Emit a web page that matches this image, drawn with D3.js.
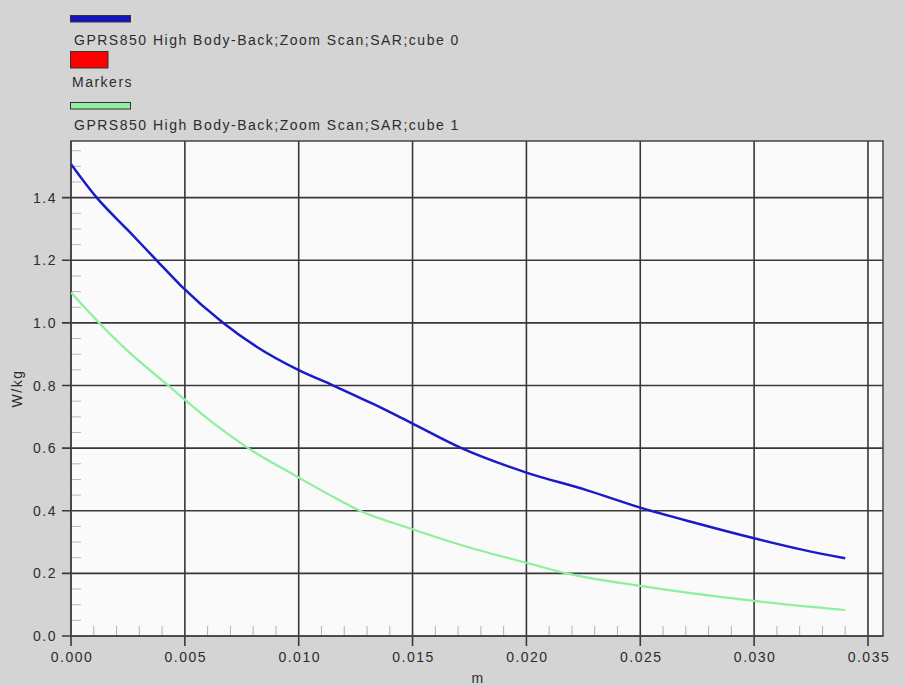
<!DOCTYPE html>
<html>
<head>
<meta charset="UTF-8">
<title>GPRS850 zoom scan</title>
<style>
  body{ margin:0; background:#d4d4d4; overflow:hidden; }
  text{ font-family:"Liberation Sans", Arial, sans-serif; font-size:14px; fill:#2c2c2c; letter-spacing:1.5px; }
</style>
</head>
<body>
<script src="https://cdn.jsdelivr.net/npm/d3@7"></script>
<script>

// tick values
var xTicks = [0, 0.005, 0.010, 0.015, 0.020, 0.025, 0.030, 0.035];
var yTicks = [0.0, 0.2, 0.4, 0.6, 0.8, 1.0, 1.2, 1.4];

// distance (m) and SAR (W/kg)
var cube0X = [0, 0.00113, 0.0025, 0.00376, 0.0048, 0.00669, 0.00815, 0.00998, 0.01152, 0.01327, 0.01496, 0.01715, 0.020, 0.02264, 0.025, 0.02747, 0.030, 0.03215, 0.034];
var cube0Y = [1.507, 1.40, 1.296, 1.20, 1.121, 1.00, 0.924, 0.850, 0.80, 0.741, 0.680, 0.60, 0.522, 0.466, 0.41, 0.36, 0.312, 0.275, 0.248];

var cube1X = [0, 0.00124, 0.0025, 0.00427, 0.0048, 0.00625, 0.00778, 0.00998, 0.01137, 0.01269, 0.01496, 0.01796, 0.020, 0.02176, 0.025, 0.030, 0.034];
var cube1Y = [1.097, 1.00, 0.91, 0.80, 0.767, 0.680, 0.60, 0.507, 0.450, 0.40, 0.342, 0.273, 0.234, 0.20, 0.160, 0.112, 0.083];

var legendNames = ["GPRS850 High Body-Back;Zoom Scan;SAR;cube 0", "Markers", "GPRS850 High Body-Back;Zoom Scan;SAR;cube 1"];

var W = 905, H = 686;
var pL = 71, pR = 883, pT = 141, pB = 636;

var svg = d3.select("body").append("svg")
        .attr("width", W)
        .attr("height", H);

var x = d3.scaleLinear().domain([0, 0.03566]).range([pL, pR]);
var y = d3.scaleLinear().domain([0, 1.581]).range([pB, pT]);

//plot background
svg.append("rect")
    .attr("x", pL).attr("y", pT)
    .attr("width", pR - pL).attr("height", pB - pT)
    .attr("fill", "#fafafa");

//minor ticks, inside the frame
var xMinor = d3.range(1, 35).map(function(i){ return i / 1000; }).filter(function(d, i){ return (i + 1) % 5 != 0; });
var yMinor = d3.range(1, 32).map(function(i){ return i * 0.05; }).filter(function(d, i){ return (i + 1) % 4 != 0; });

svg.append("g").selectAll("line")
    .data(xMinor)
    .enter().append("line")
    .attr("x1", function(d){ return x(d); }).attr("x2", function(d){ return x(d); })
    .attr("y1", pB).attr("y2", pB - 10)
    .attr("stroke", "#b0b0b0").attr("stroke-width", 1);

svg.append("g").selectAll("line")
    .data(yMinor)
    .enter().append("line")
    .attr("y1", function(d){ return y(d); }).attr("y2", function(d){ return y(d); })
    .attr("x1", pL).attr("x2", pL + 10)
    .attr("stroke", "#b8b8b8").attr("stroke-width", 1);

//grid lines (run past the frame as major ticks)
svg.append("g").selectAll("line")
    .data(xTicks)
    .enter().append("line")
    .attr("x1", function(d){ return x(d); }).attr("x2", function(d){ return x(d); })
    .attr("y1", pT).attr("y2", pB + 10)
    .attr("stroke", "#383838").attr("stroke-width", 1.6);

svg.append("g").selectAll("line")
    .data(yTicks)
    .enter().append("line")
    .attr("y1", function(d){ return y(d); }).attr("y2", function(d){ return y(d); })
    .attr("x1", pL - 9).attr("x2", pR)
    .attr("stroke", "#383838").attr("stroke-width", 1.6);

//frame
svg.append("rect")
    .attr("x", pL).attr("y", pT)
    .attr("width", pR - pL).attr("height", pB - pT)
    .attr("fill", "none").attr("stroke", "#444").attr("stroke-width", 1.5);

//tick labels
svg.append("g").selectAll("text")
    .data(xTicks)
    .enter().append("text")
    .attr("x", function(d){ return x(d) + 1; })
    .attr("y", pB + 26)
    .attr("text-anchor", "middle")
    .text(d3.format(".3f"));

svg.append("g").selectAll("text")
    .data(yTicks)
    .enter().append("text")
    .attr("x", pL - 14)
    .attr("y", function(d){ return y(d) + 5; })
    .attr("text-anchor", "end")
    .text(d3.format(".1f"));

//axis titles
svg.append("text")
    .attr("x", (pL + pR) / 2 + 1).attr("y", 683)
    .attr("text-anchor", "middle")
    .text("m");

svg.append("text")
    .attr("transform", "translate(22," + ((pT + pB) / 2) + ") rotate(-90)")
    .attr("text-anchor", "middle")
    .text("W/kg");

//curves
svg.append("clipPath").attr("id", "plotclip")
    .append("rect")
    .attr("x", pL).attr("y", pT)
    .attr("width", pR - pL).attr("height", pB - pT);

var line = d3.line()
    .x(function(d){ return x(d[0]); })
    .y(function(d){ return y(d[1]); })
    .curve(d3.curveMonotoneX);

var cube0 = d3.zip(cube0X, cube0Y);
var cube1 = d3.zip(cube1X, cube1Y);

svg.append("path")
    .attr("d", line(cube1))
    .attr("clip-path", "url(#plotclip)")
    .attr("fill", "none").attr("stroke", "#8ef09e").attr("stroke-width", 2.2);

svg.append("path")
    .attr("d", line(cube0))
    .attr("clip-path", "url(#plotclip)")
    .attr("fill", "none").attr("stroke", "#1a1ac8").attr("stroke-width", 2.5);

//legend
var swatches = [
    { x: 70.5, y: 15.5, w: 60, h: 6.5, fill: "#1414c0" },
    { x: 70.5, y: 51.5, w: 37.5, h: 16.5, fill: "#ff0000" },
    { x: 70.5, y: 102.5, w: 60, h: 6.5, fill: "#90f0a0" }
];
var labelPos = [{ x: 74, y: 45 }, { x: 72, y: 87 }, { x: 74, y: 130 }];

svg.append("g").selectAll("rect")
    .data(swatches)
    .enter().append("rect")
    .attr("x", function(d){ return d.x; }).attr("y", function(d){ return d.y; })
    .attr("width", function(d){ return d.w; }).attr("height", function(d){ return d.h; })
    .attr("fill", function(d){ return d.fill; })
    .attr("stroke", "#333").attr("stroke-width", 1);

svg.append("g").selectAll("text")
    .data(legendNames)
    .enter().append("text")
    .attr("x", function(d, i){ return labelPos[i].x; })
    .attr("y", function(d, i){ return labelPos[i].y; })
    .text(function(d){ return d; });

</script>
</body>
</html>
